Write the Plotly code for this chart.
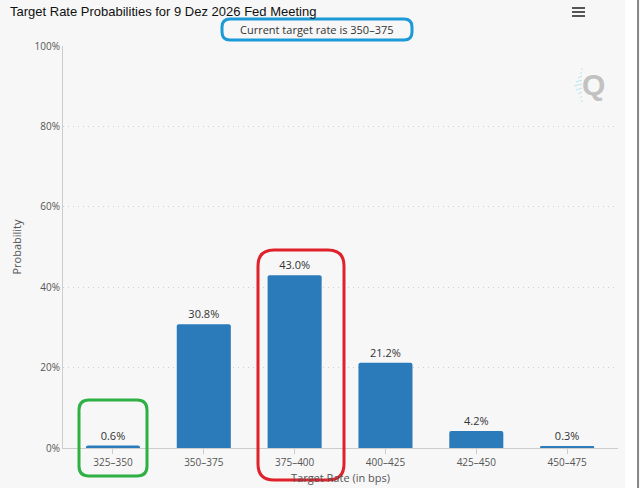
import plotly.graph_objects as go

categories = ["325–350", "350–375", "375–400", "400–425", "425–450", "450–475"]
probabilities = [0.6, 30.8, 43.0, 21.2, 4.2, 0.3]
y_ticks = [0, 20, 40, 60, 80, 100]
y_tick_labels = ["0%", "20%", "40%", "60%", "80%", "100%"]

W, H = 640, 488
ML, MR, MT, MB = 63, 22, 46, 40
PW, PH = W - ML - MR, H - MT - MB

def px(x):
    return (x - ML) / PW

def py(y):
    return (H - MB - y) / PH

def rounded(x0, y0, x1, y1, r):
    rx = r / PW
    ry = r / PH
    a, b, c, d = px(x0), px(x1), py(y0), py(y1)
    return (f"M{a+rx},{c} L{b-rx},{c} Q{b},{c} {b},{c-ry} L{b},{d+ry} Q{b},{d} {b-rx},{d} "
            f"L{a+rx},{d} Q{a},{d} {a},{d+ry} L{a},{c-ry} Q{a},{c} {a+rx},{c} Z")

fig = go.Figure()
fig.add_trace(go.Bar(
    x=categories, y=probabilities,
    marker=dict(color="#2b7bba", cornerradius=2, line=dict(width=0)),
    width=0.595,
    text=[f"{v:.1f}%" for v in probabilities],
    textposition="outside",
    textfont=dict(family="Open Sans, sans-serif", size=11, color="#333333"),
    cliponaxis=False,
    hoverinfo="skip",
))

shapes = [
    dict(type="rect", xref="paper", yref="paper", x0=px(625), x1=px(637), y0=py(488), y1=py(0),
         fillcolor="#ffffff", line=dict(width=0), layer="below"),
    dict(type="line", xref="paper", yref="paper", x0=px(638), x1=px(638), y0=py(488), y1=py(0),
         line=dict(color="#888888", width=2)),
    *[dict(type="line", xref="paper", yref="paper", x0=px(572), x1=px(585), y0=py(yy), y1=py(yy),
           line=dict(color="#555555", width=2)) for yy in (8, 12, 16)],
    dict(type="path", xref="paper", yref="paper", path=rounded(222, 19, 412, 40, 8),
         line=dict(color="#1a9ad6", width=3)),
    dict(type="path", xref="paper", yref="paper", path=rounded(79, 400, 147, 476, 10),
         line=dict(color="#2eb045", width=3)),
    dict(type="path", xref="paper", yref="paper", path=rounded(258, 250, 344, 480, 16),
         line=dict(color="#e0202a", width=3)),
]
for i in range(9):
    yy = 70 + i * 4
    shapes.append(dict(type="line", xref="paper", yref="paper",
                       x0=px(582 - (8 - abs(4 - i) * 2)), x1=px(582), y0=py(yy), y1=py(yy - 2),
                       line=dict(color="#b8e6f0", width=1)))

annotations = [
    dict(text="Target Rate Probabilities for 9 Dez 2026 Fed Meeting", xref="paper", yref="paper",
         x=px(8), y=py(11), xanchor="left", yanchor="middle", showarrow=False,
         font=dict(family="Liberation Sans, Arial, sans-serif", size=13, color="#111111")),
    dict(text="Current target rate is 350–375", xref="paper", yref="paper",
         x=px(317), y=py(30), xanchor="center", yanchor="middle", showarrow=False,
         font=dict(family="Open Sans, sans-serif", size=11, color="#333333")),
    dict(text="<b>Q</b>", xref="paper", yref="paper",
         x=px(593), y=py(84), xanchor="center", yanchor="middle", showarrow=False,
         font=dict(family="Liberation Sans, Arial, sans-serif", size=30, color="#c2c2c2")),
]

fig.update_layout(
    width=W, height=H,
    margin=dict(l=ML, r=MR, t=MT, b=MB, autoexpand=False),
    paper_bgcolor="#f7f7f7", plot_bgcolor="#f7f7f7",
    showlegend=False,
    shapes=shapes,
    annotations=annotations,
    xaxis=dict(
        automargin=False,
        range=[-0.55, 5.56],
        showline=True, linecolor="#cccccc", linewidth=1,
        ticks="outside", ticklen=5, tickcolor="#cccccc",
        tickfont=dict(family="Open Sans, sans-serif", size=10, color="#555555"),
        title=dict(text="Target Rate (in bps)", standoff=6,
                   font=dict(family="Open Sans, sans-serif", size=11, color="#555555")),
        showgrid=False, fixedrange=True,
    ),
    yaxis=dict(
        automargin=False,
        range=[0, 100], tickmode="array", tickvals=y_ticks, ticktext=y_tick_labels,
        showline=True, linecolor="#cccccc", linewidth=1,
        showgrid=True, gridcolor="#cfcfcf", griddash="1px,4px", gridwidth=1,
        zeroline=False,
        tickfont=dict(family="Open Sans, sans-serif", size=10, color="#555555"),
        title=dict(text="Probability", standoff=10,
                   font=dict(family="Open Sans, sans-serif", size=11, color="#555555")),
        fixedrange=True,
    ),
)

fig.write_html("out.html", config=dict(displayModeBar=False))
